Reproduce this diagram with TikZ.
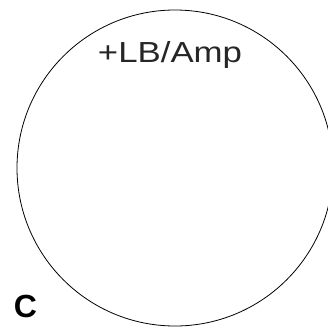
\documentclass[tikz,border=0pt]{standalone}
\usepackage{fontspec}
\setmainfont{Liberation Sans}
\begin{document}
\begin{tikzpicture}[x=1pt,y=1pt,
  ring/.style={draw=black, line width=0.8pt},
  lbl/.style={inner sep=0pt, anchor=base, font=\fontsize{29}{30}\selectfont, text=black!85},
  panel/.style={inner sep=0pt, anchor=base, font=\fontsize{32}{34}\selectfont\bfseries}]
\useasboundingbox (0,0) rectangle (328,327);
\node[ring, circle, minimum size=316pt, inner sep=0pt] (c) at (175,159) {};
\node[lbl] (t) at (170,264) {\scalebox{1.2}[1]{+LB/Amp}};
\node[panel] (p) at (25.5,10) {C};
\end{tikzpicture}
\end{document}
